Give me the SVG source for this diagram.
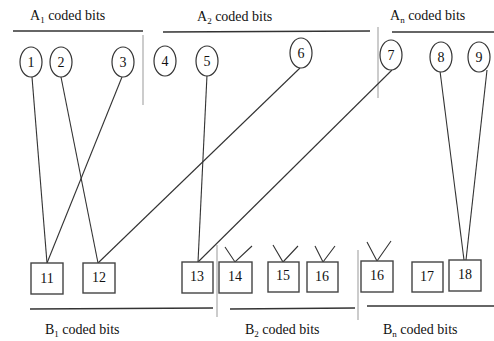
<svg xmlns="http://www.w3.org/2000/svg" width="494" height="341" viewBox="0 0 494 341">
<style>
.lbl{font-family:"Liberation Serif","Times New Roman",serif;font-size:14px;fill:#111}
.num{font-family:"Liberation Serif","Times New Roman",serif;font-size:14px;fill:#111;text-anchor:middle}
.c{fill:#fff;stroke:#333;stroke-width:1.2}
.b{fill:#fff;stroke:#444;stroke-width:1.4}
.rule{stroke:#333;stroke-width:1.4;fill:none}
.sep{stroke:#999;stroke-width:1;fill:none}
.edge{stroke:#333;stroke-width:1.1;fill:none}
.v{stroke:#333;stroke-width:1.1;fill:none}
</style>
<rect width="494" height="341" fill="#fff"/>
<g id="headers">
<text class="lbl" x="30" y="20">A<tspan font-size="9" dy="3">1</tspan><tspan dy="-3"> coded bits</tspan></text>
<text class="lbl" x="197" y="21">A<tspan font-size="9" dy="3">2</tspan><tspan dy="-3"> coded bits</tspan></text>
<text class="lbl" x="390" y="20">A<tspan font-size="9" dy="3">n</tspan><tspan dy="-3"> coded bits</tspan></text>
<line class="rule" x1="13" y1="31" x2="143" y2="31"/>
<line class="rule" x1="163" y1="32" x2="370" y2="31"/>
<line class="rule" x1="392" y1="32" x2="494" y2="32"/>
<line class="sep" x1="143" y1="35" x2="143" y2="105"/>
<line class="sep" x1="378" y1="27" x2="378" y2="98"/>
<text class="lbl" x="45" y="334">B<tspan font-size="9" dy="3">1</tspan><tspan dy="-3"> coded bits</tspan></text>
<text class="lbl" x="245" y="334">B<tspan font-size="9" dy="3">2</tspan><tspan dy="-3"> coded bits</tspan></text>
<text class="lbl" x="383" y="334">B<tspan font-size="9" dy="3">n</tspan><tspan dy="-3"> coded bits</tspan></text>
<line class="rule" x1="30" y1="309" x2="213" y2="308"/>
<line class="rule" x1="230" y1="309" x2="355" y2="308"/>
<line class="rule" x1="367" y1="306" x2="494" y2="306"/>
<line class="sep" x1="217" y1="245" x2="217" y2="317"/>
<line class="sep" x1="358" y1="250" x2="358" y2="320"/>
</g>
<g id="connectors">
<line class="edge" x1="32" y1="77" x2="47" y2="263"/>
<line class="edge" x1="61" y1="77" x2="98" y2="263"/>
<line class="edge" x1="122" y1="77" x2="47" y2="263"/>
<line class="edge" x1="207" y1="75" x2="198" y2="262"/>
<line class="edge" x1="300" y1="68" x2="98" y2="263"/>
<line class="edge" x1="392" y1="70" x2="198" y2="262"/>
<line class="edge" x1="440" y1="71" x2="464" y2="260"/>
<line class="edge" x1="487" y1="70" x2="466" y2="260"/>
<polyline class="v" points="225,247 235,262 252,246"/>
<polyline class="v" points="273,245 283,262 298,246"/>
<polyline class="v" points="315,246 323,262 335,246"/>
<polyline class="v" points="367,242 377,261 391,241"/>
</g>
<g id="n1"><ellipse class="c" cx="31" cy="62" rx="11" ry="15"/><text class="num" x="31" y="67">1</text></g>
<g id="n2"><ellipse class="c" cx="61" cy="62" rx="11" ry="15"/><text class="num" x="61" y="67">2</text></g>
<g id="n3"><ellipse class="c" cx="123" cy="62" rx="11" ry="15"/><text class="num" x="123" y="67">3</text></g>
<g id="n4"><ellipse class="c" cx="165" cy="61" rx="11" ry="15"/><text class="num" x="165" y="66">4</text></g>
<g id="n5"><ellipse class="c" cx="207" cy="61" rx="11" ry="15"/><text class="num" x="207" y="66">5</text></g>
<g id="n6"><ellipse class="c" cx="301" cy="53" rx="11" ry="15"/><text class="num" x="301" y="58">6</text></g>
<g id="n7"><ellipse class="c" cx="391" cy="55" rx="11" ry="15"/><text class="num" x="391" y="60">7</text></g>
<g id="n8"><ellipse class="c" cx="441" cy="57" rx="11" ry="15"/><text class="num" x="441" y="62">8</text></g>
<g id="n9"><ellipse class="c" cx="479" cy="57" rx="11" ry="15"/><text class="num" x="479" y="62">9</text></g>
<g id="b11"><rect class="b" x="31" y="263" width="32" height="31"/><text class="num" x="47" y="283">11</text></g>
<g id="b12"><rect class="b" x="83" y="263" width="32" height="30"/><text class="num" x="99" y="282">12</text></g>
<g id="b13"><rect class="b" x="182" y="262" width="31" height="31"/><text class="num" x="197" y="281">13</text></g>
<g id="b14"><rect class="b" x="219" y="262" width="33" height="31"/><text class="num" x="235" y="281">14</text></g>
<g id="b15"><rect class="b" x="268" y="262" width="31" height="30"/><text class="num" x="283" y="280">15</text></g>
<g id="b16a"><rect class="b" x="307" y="262" width="31" height="30"/><text class="num" x="322" y="281">16</text></g>
<g id="b16b"><rect class="b" x="361" y="261" width="32" height="31"/><text class="num" x="377" y="280">16</text></g>
<g id="b17"><rect class="b" x="412" y="262" width="31" height="30"/><text class="num" x="427" y="281">17</text></g>
<g id="b18"><rect class="b" x="449" y="260" width="32" height="31" stroke-width="2"/><text class="num" x="465" y="279">18</text></g>
</svg>
